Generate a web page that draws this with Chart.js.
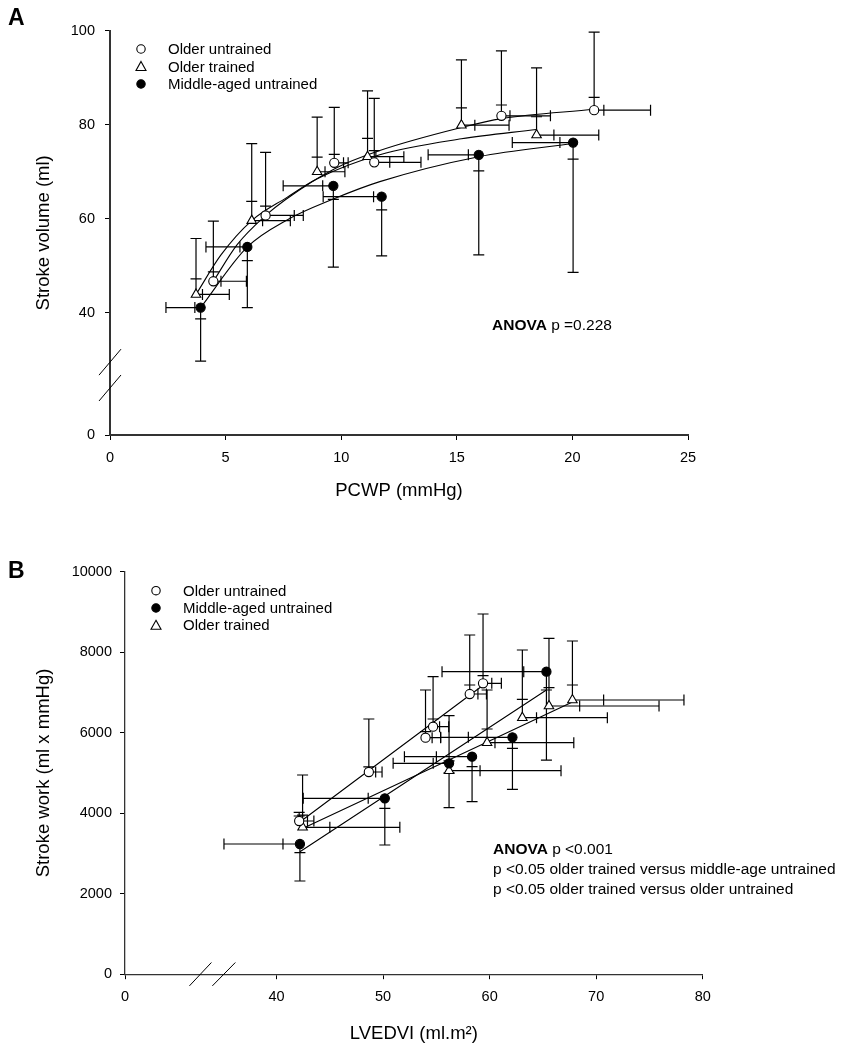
<!DOCTYPE html>
<html>
<head>
<meta charset="utf-8">
<script src="https://cdn.jsdelivr.net/npm/chart.js@4.4.0/dist/chart.umd.min.js"></script>
<style>
    html, body { margin: 0; padding: 0; background: #fff; }
    .panel { position: absolute; left: 0; width: 854px; height: 525px; }
    #wrapA { top: 0; }
    #wrapB { top: 525px; }
</style>
</head>
<body>
<div id="wrapA" class="panel"><canvas id="chartA" width="854" height="525"></canvas></div>
<div id="wrapB" class="panel"><canvas id="chartB" width="854" height="525"></canvas></div>
<script>
// ---- panel A: stroke volume (ml) against PCWP (mmHg) ----
const pcwpOU = [4.47, 6.73, 9.70, 11.43, 16.93, 20.94];
const svOU = [46.7, 60.7, 71.9, 72.0, 81.9, 83.1];
const svOUbar = [59.5, 74.1, 83.7, 85.6, 95.7, 99.7];
const svOUcap = [48.7, 62.7, 73.7, 74.5, 84.2, 85.8];
const pcwpOUbar = [5.9, 8.36, 10.3, 13.45, 19.05, 23.38];
const pcwpOUcap = [4.8, 7.97, 10.1, 12.1, 17.3, 21.36];

const pcwpOT = [3.72, 6.13, 8.96, 11.14, 15.2, 18.45];
const svOT = [43.9, 59.6, 70.0, 73.2, 79.9, 77.8];
const svOTbar = [55.8, 76.0, 81.6, 87.2, 93.8, 92.1];
const svOTcap = [47.2, 63.7, 73.1, 77.1, 83.6, 81.7];
const pcwpOTbar = [5.16, 7.8, 10.16, 12.71, 17.26, 21.14];
const pcwpOTcap = [4.0, 6.6, 9.3, 11.5, 15.78, 19.2];

const pcwpMA = [3.92, 5.94, 9.66, 11.75, 15.95, 20.03];
const svMA = [41.1, 54.0, 67.0, 64.7, 73.6, 76.2];
const svMAbar = [29.7, 41.1, 49.7, 52.1, 52.3, 48.6];
const svMAcap = [38.7, 51.1, 64.1, 61.9, 70.2, 72.7];
const pcwpMAbar = [2.42, 4.15, 7.49, 9.22, 13.76, 17.4];
const pcwpMAcap = [3.67, 5.62, 9.2, 11.4, 15.5, 19.46];

// fitted curves
const curveOUx = [4.47, 5.5, 6.73, 7.57, 9.7, 11.67, 15.2, 16.93, 20.94];
const curveOUy = [46.7, 54.5, 60.7, 64.0, 70.6, 74.5, 79.4, 81.3, 83.3];
const curveOTx = [3.72, 4.8, 6.13, 7.64, 8.96, 11.67, 15.2, 18.45];
const curveOTy = [43.9, 52.3, 59.6, 64.5, 68.5, 73.6, 77.0, 79.0];
const curveMAx = [3.92, 5.94, 7.64, 9.66, 11.67, 15.95, 20.03];
const curveMAy = [41.1, 54.0, 59.7, 64.2, 67.9, 73.2, 76.0];

const svTickValues = [14, 40, 60, 80, 100];
const svTickLabels = [`0`, `40`, `60`, `80`, `100`];

// ---- panel B: stroke work (ml x mmHg) against LVEDVI ----
const lvOU = [42.12, 48.66, 53.98, 54.69, 58.13, 59.38];
const swOU = [3806, 5024, 5876, 6149, 6961, 7227];
const swOUbar = [4020, 6340, 7061, 7391, 8427, 8949];
const swOUcap = [3930, 5150, 6025, 6340, 7185, 7420];
const lvOUbar = [43.5, 49.9, 55.4, 56.16, 59.7, 61.1];
const lvOUcap = [42.9, 49.3, 54.6, 55.3, 58.9, 60.2];

const lvMA = [42.19, 50.16, 56.19, 58.35, 62.14, 65.33];
const swMA = [3235, 4370, 5240, 5404, 5886, 7515];
const swMAbar = [2316, 3210, 4140, 4290, 4593, 5321];
const swMAcap = [3019, 4122, 5000, 5155, 5612, 7061];
const lvMAbar = [35.06, 42.5, 50.94, 52.0, 55.4, 55.53];
const lvMAcap = [40.6, 48.6, 54.7, 55.0, 58.0, 63.2];

const lvOT = [42.44, 56.19, 59.76, 63.07, 65.57, 67.77];
const swOT = [3650, 5056, 5752, 6373, 6663, 6812];
const swOTbar = [4949, 6423, 7061, 8055, 8345, 8278];
const swOTcap = [3950, 5300, 6092, 6829, 7118, 7185];
const lvOTbar = [51.57, 66.7, 67.9, 71.05, 75.9, 78.24];
const lvOTcap = [45.0, 59.1, 60.5, 64.4, 68.45, 70.7];

// regression lines, end points
const lineOUx = [42.12, 59.38];
const lineOUy = [3770, 7180];
const lineMAx = [42.19, 65.33];
const lineMAy = [3044, 7060];
const lineOTx = [42.44, 67.77];
const lineOTy = [3620, 6760];

const lvTickValues = [25.77, 40, 50, 60, 70, 80];
const lvTickLabels = [`0`, `40`, `50`, `60`, `70`, `80`];


const FONT = `"Liberation Sans", Arial, sans-serif`;
const INK = `#000`;

const toPoints = function (xs, ys) {
    return xs.map((x, i) => ({ x, y: ys[i] }));
};

const marker = function (style) {
    if (style === `triangle`) {
        return { pointStyle: `triangle`, pointRadius: 5.5, backgroundColor: `#fff`, borderColor: INK };
    }
    if (style === `filled`) {
        return { pointStyle: `circle`, pointRadius: 4.6, backgroundColor: INK, borderColor: INK };
    }
    return { pointStyle: `circle`, pointRadius: 4.6, backgroundColor: `#fff`, borderColor: INK };
};

const pointDataset = function (label, xs, ys, style) {
    return Object.assign({
        label,
        data: toPoints(xs, ys),
        showLine: false,
        pointBorderWidth: 1.1,
        order: 1,
    }, marker(style));
};

const curveDataset = function (xs, ys) {
    return {
        data: toPoints(xs, ys),
        showLine: true,
        borderColor: INK,
        borderWidth: 1.1,
        pointRadius: 0,
        cubicInterpolationMode: `monotone`,
        fill: false,
        order: 2,
    };
};

// error bars: each bar goes from the mean to `bar`, with a cap there and one at `cap`
const errorBarsPlugin = {
    id: `errorBars`,
    beforeDatasetsDraw(chart, args, opts) {
        const { ctx, scales: { x: xs, y: ys } } = chart;
        ctx.save();
        ctx.strokeStyle = INK;
        ctx.lineWidth = 1.2;
        opts.groups.forEach(g => {
            g.x.forEach((xv, i) => {
                const px = xs.getPixelForValue(xv);
                const py = ys.getPixelForValue(g.y[i]);
                const yEnd = ys.getPixelForValue(g.yBar[i]);
                const yCap = ys.getPixelForValue(g.yCap[i]);
                const xEnd = xs.getPixelForValue(g.xBar[i]);
                const xCap = xs.getPixelForValue(g.xCap[i]);
                ctx.beginPath();
                ctx.moveTo(px, py); ctx.lineTo(px, yEnd);
                ctx.moveTo(px - 5.5, yEnd); ctx.lineTo(px + 5.5, yEnd);
                ctx.moveTo(px - 5.5, yCap); ctx.lineTo(px + 5.5, yCap);
                ctx.moveTo(px, py); ctx.lineTo(xEnd, py);
                ctx.moveTo(xEnd, py - 5.5); ctx.lineTo(xEnd, py + 5.5);
                ctx.moveTo(xCap, py - 5.5); ctx.lineTo(xCap, py + 5.5);
                ctx.stroke();
            });
        });
        ctx.restore();
    },
};

const drawMarker = function (ctx, style, x, y) {
    ctx.save();
    ctx.lineWidth = 1.1;
    ctx.strokeStyle = INK;
    ctx.fillStyle = style === `filled` ? INK : `#fff`;
    ctx.beginPath();
    if (style === `triangle`) {
        ctx.moveTo(x, y - 5);
        ctx.lineTo(x + 5, y + 4);
        ctx.lineTo(x - 5, y + 4);
        ctx.closePath();
    } else {
        ctx.arc(x, y, 4.2, 0, Math.PI * 2);
    }
    ctx.fill();
    ctx.stroke();
    ctx.restore();
};

// panel letter, legend, statistics text and axis break marks
const decorPlugin = {
    id: `decor`,
    afterDraw(chart, args, opts) {
        const { ctx } = chart;
        ctx.save();
        ctx.fillStyle = INK;
        ctx.textBaseline = `middle`;
        ctx.font = `bold 23px ${FONT}`;
        ctx.fillText(opts.letter, opts.letterPos[0], opts.letterPos[1]);

        ctx.font = `15px ${FONT}`;
        opts.legend.forEach((item, i) => {
            const y = opts.legendPos[1] + i * opts.legendStep;
            drawMarker(ctx, item.style, opts.legendPos[0], y);
            ctx.fillText(item.text, opts.legendPos[0] + 27, y + 1);
        });

        opts.stats.forEach((line, i) => {
            const y = opts.statsPos[1] + i * 20;
            let x = opts.statsPos[0];
            if (line.bold) {
                ctx.font = `bold 15.5px ${FONT}`;
                ctx.fillText(line.bold, x, y);
                x += ctx.measureText(line.bold).width;
            }
            ctx.font = `15.5px ${FONT}`;
            ctx.fillText(line.text, x, y);
        });

        // break marks on the axis
        ctx.strokeStyle = INK;
        ctx.lineWidth = 1;
        opts.breaks(chart).forEach(([x1, y1, x2, y2]) => {
            ctx.beginPath();
            ctx.moveTo(x1, y1);
            ctx.lineTo(x2, y2);
            ctx.stroke();
        });
        ctx.restore();
    },
};

const axisCommon = function (axisWidth) {
    return {
        type: `linear`,
        grid: { drawOnChartArea: false, drawTicks: true, tickLength: 5, color: INK, lineWidth: 1 },
        border: { display: true, color: `#333`, width: axisWidth },
    };
};

// ---- chart A ----
new Chart(document.getElementById(`chartA`), {
    type: `scatter`,
    data: {
        datasets: [
            pointDataset(`Older untrained`, pcwpOU, svOU, `open`),
            pointDataset(`Older trained`, pcwpOT, svOT, `triangle`),
            pointDataset(`Middle-aged untrained`, pcwpMA, svMA, `filled`),
            curveDataset(curveOUx, curveOUy),
            curveDataset(curveOTx, curveOTy),
            curveDataset(curveMAx, curveMAy),
        ],
    },
    options: {
        responsive: false,
        animation: false,
        layout: { padding: { left: 33, right: 166, top: 30.7, bottom: 23 } },
        plugins: {
            legend: { display: false },
            tooltip: { enabled: false },
            errorBars: {
                groups: [
                    { x: pcwpOU, y: svOU, yBar: svOUbar, yCap: svOUcap, xBar: pcwpOUbar, xCap: pcwpOUcap },
                    { x: pcwpOT, y: svOT, yBar: svOTbar, yCap: svOTcap, xBar: pcwpOTbar, xCap: pcwpOTcap },
                    { x: pcwpMA, y: svMA, yBar: svMAbar, yCap: svMAcap, xBar: pcwpMAbar, xCap: pcwpMAcap },
                ],
            },
            decor: {
                letter: `A`,
                letterPos: [8, 19],
                legend: [
                    { style: `open`, text: `Older untrained` },
                    { style: `triangle`, text: `Older trained` },
                    { style: `filled`, text: `Middle-aged untrained` },
                ],
                legendPos: [141, 49],
                legendStep: 17.5,
                stats: [{ bold: `ANOVA`, text: ` p =0.228` }],
                statsPos: [492, 326],
                breaks: chart => {
                    const x0 = chart.scales.y.right;
                    const ya = chart.scales.y.getPixelForValue(29.5);
                    const yb = chart.scales.y.getPixelForValue(24);
                    return [[x0 - 11, ya + 13, x0 + 11, ya - 13], [x0 - 11, yb + 13, x0 + 11, yb - 13]];
                },
            },
        },
        scales: {
            x: Object.assign(axisCommon(2), {
                min: 0,
                max: 25,
                ticks: { stepSize: 5, color: INK, font: { family: FONT, size: 14.5 }, padding: 9, maxRotation: 0 },
                title: { display: true, text: `PCWP (mmHg)`, color: INK, font: { family: FONT, size: 18.5 }, padding: 0 },
                afterFit: s => { s.height = 67; },
            }),
            y: Object.assign(axisCommon(2), {
                min: svTickValues[0],
                max: 100,
                afterBuildTicks: s => { s.ticks = svTickValues.map(value => ({ value })); },
                ticks: { color: INK, font: { family: FONT, size: 14.5 }, padding: 10, callback: (v, i) => svTickLabels[i] },
                title: { display: true, text: `Stroke volume (ml)`, color: INK, font: { family: FONT, size: 18.5 }, padding: 0 },
                afterFit: s => { s.width = 77; },
            }),
        },
    },
    plugins: [errorBarsPlugin, decorPlugin],
});

// ---- chart B ----
new Chart(document.getElementById(`chartB`), {
    type: `scatter`,
    data: {
        datasets: [
            pointDataset(`Older untrained`, lvOU, swOU, `open`),
            pointDataset(`Middle-aged untrained`, lvMA, swMA, `filled`),
            pointDataset(`Older trained`, lvOT, swOT, `triangle`),
            curveDataset(lineOUx, lineOUy),
            curveDataset(lineMAx, lineMAy),
            curveDataset(lineOTx, lineOTy),
        ],
    },
    options: {
        responsive: false,
        animation: false,
        layout: { padding: { left: 33, right: 151.3, top: 46.7, bottom: 4.8 } },
        plugins: {
            legend: { display: false },
            tooltip: { enabled: false },
            errorBars: {
                groups: [
                    { x: lvOU, y: swOU, yBar: swOUbar, yCap: swOUcap, xBar: lvOUbar, xCap: lvOUcap },
                    { x: lvMA, y: swMA, yBar: swMAbar, yCap: swMAcap, xBar: lvMAbar, xCap: lvMAcap },
                    { x: lvOT, y: swOT, yBar: swOTbar, yCap: swOTcap, xBar: lvOTbar, xCap: lvOTcap },
                ],
            },
            decor: {
                letter: `B`,
                letterPos: [8, 47],
                legend: [
                    { style: `open`, text: `Older untrained` },
                    { style: `filled`, text: `Middle-aged untrained` },
                    { style: `triangle`, text: `Older trained` },
                ],
                legendPos: [156, 65.7],
                legendStep: 17.3,
                stats: [
                    { bold: `ANOVA`, text: ` p <0.001` },
                    { bold: ``, text: `p <0.05 older trained versus middle-age untrained` },
                    { bold: ``, text: `p <0.05 older trained versus older untrained` },
                ],
                statsPos: [493, 325],
                breaks: chart => {
                    const y0 = chart.scales.x.top;
                    const xa = chart.scales.x.getPixelForValue(32.85);
                    const xb = chart.scales.x.getPixelForValue(35.05);
                    return [[xa - 11, y0 + 11.7, xa + 11, y0 - 11.7], [xb - 11.5, y0 + 11.7, xb + 11.5, y0 - 11.7]];
                },
            },
        },
        scales: {
            x: Object.assign(axisCommon(1.3), {
                min: lvTickValues[0],
                max: 80,
                afterBuildTicks: s => { s.ticks = lvTickValues.map(value => ({ value })); },
                ticks: { color: INK, font: { family: FONT, size: 14.5 }, padding: 9, maxRotation: 0, callback: (v, i) => lvTickLabels[i] },
                title: { display: true, text: `LVEDVI (ml.m²)`, color: INK, font: { family: FONT, size: 18.5 }, padding: 0 },
                afterFit: s => { s.height = 71; },
            }),
            y: Object.assign(axisCommon(1.3), {
                min: 0,
                max: 10000,
                ticks: { stepSize: 2000, color: INK, font: { family: FONT, size: 14.5 }, padding: 8, callback: v => String(v) },
                title: { display: true, text: `Stroke work (ml x mmHg)`, color: INK, font: { family: FONT, size: 18.5 }, padding: 0 },
                afterFit: s => { s.width = 92; },
            }),
        },
    },
    plugins: [errorBarsPlugin, decorPlugin],
});
</script>
</body>
</html>
